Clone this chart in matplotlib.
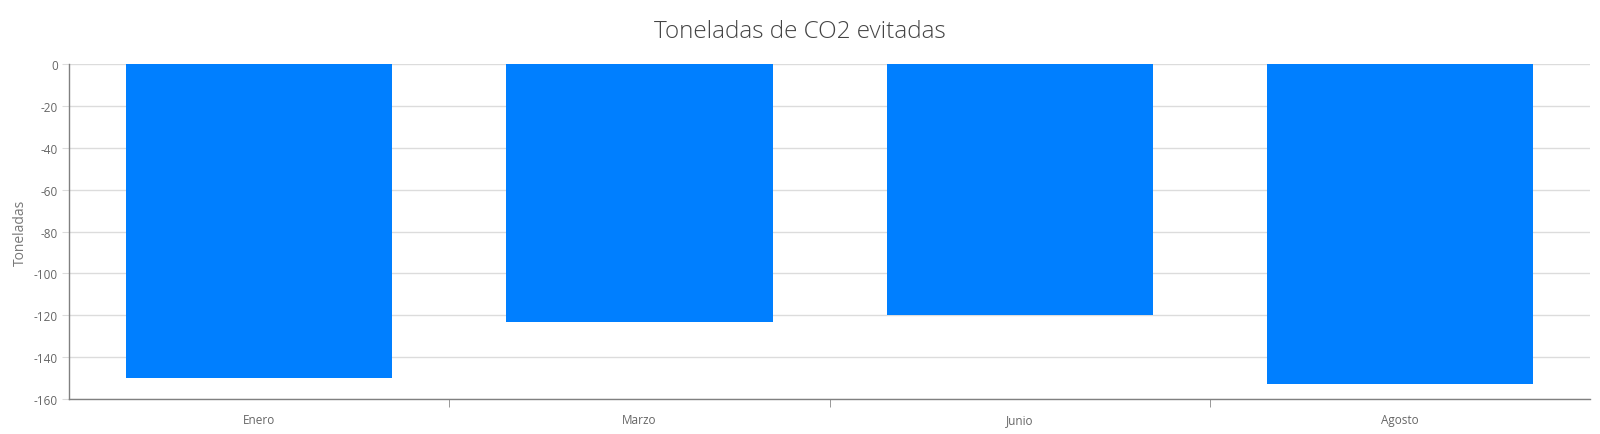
import matplotlib
matplotlib.use('Agg')
import matplotlib.pyplot as plt
import numpy as np

plt.rcParams['font.family'] = ['Open Sans', 'DejaVu Sans']

meses = ['Enero', 'Marzo', 'Junio', 'Agosto']
toneladas = [-150, -123, -120, -153]
y_ticks = [0, -20, -40, -60, -80, -100, -120, -140, -160]

fig = plt.figure(figsize=(16, 4.35), dpi=100)
ax = fig.add_axes([0.043, 0.0805, 0.951, 0.77])

x = np.arange(len(meses))
ax.bar(x, toneladas, width=0.7, color='#007fff', zorder=3)

ax.set_xlim(-0.5, len(meses) - 0.5)
ax.set_ylim(-160, 0)
ax.set_yticks(y_ticks)
ax.set_yticklabels([str(v) for v in y_ticks])
ax.grid(axis='y', color='#dcdcdc', linewidth=1, zorder=0)

# category labels centred, tick marks on boundaries
ax.set_xticks(x)
ax.set_xticklabels(meses)
ax.set_xticks(np.arange(0.5, len(meses) - 0.5, 1), minor=True)
ax.tick_params(axis='x', which='major', length=0, pad=10, labelsize=8.5, labelcolor='#666666')
ax.tick_params(axis='x', which='minor', length=6, color='#888888', direction='out')
ax.tick_params(axis='y', length=5, color='#dcdcdc', labelsize=8.5, labelcolor='#666666', pad=3)

for s in ['top', 'right']:
    ax.spines[s].set_visible(False)
for s in ['left', 'bottom']:
    ax.spines[s].set_color('#808080')
    ax.spines[s].set_linewidth(1)

ax.set_ylabel('Toneladas', fontsize=10, color='#777777', labelpad=4)
fig.suptitle('Toneladas de CO2 evitadas', fontsize=17.5, color='#444444',
             fontweight='light', y=0.955)

fig.savefig('out.png', dpi=100)
